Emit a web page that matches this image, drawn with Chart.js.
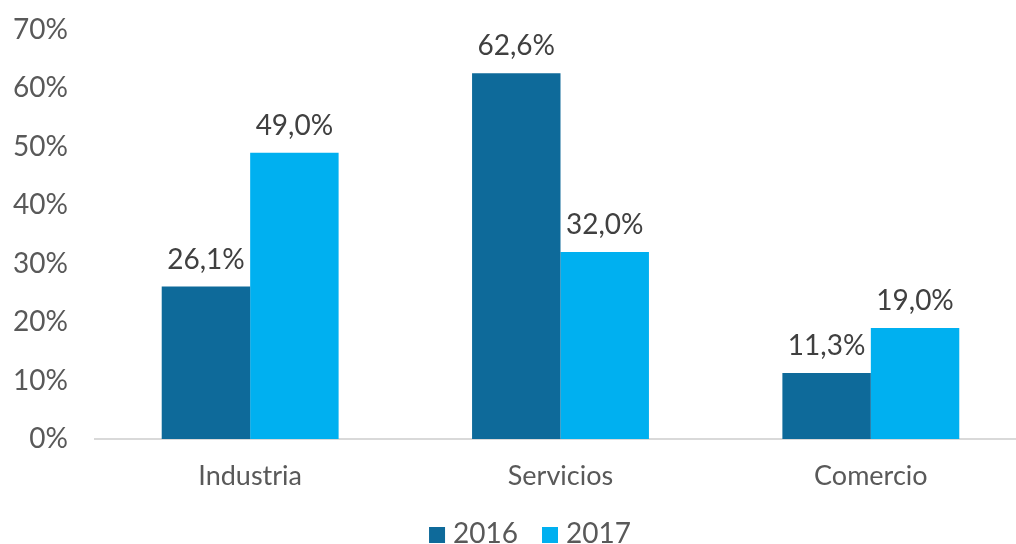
<!DOCTYPE html>
<html>
<head>
<meta charset="utf-8">
<script src="https://cdn.jsdelivr.net/npm/chart.js@4.4.0/dist/chart.umd.min.js"></script>
<style>
html,body{margin:0;padding:0;background:#fff;overflow:hidden;}
#wrap{width:1030px;height:544px;position:relative;}
</style>
</head>
<body>
<div id="wrap"><canvas id="c"></canvas></div>
<script>
const categories = ['Industria', 'Servicios', 'Comercio'];
const seriesNames = ['2016', '2017'];
const values2016 = [26.1, 62.6, 11.3];
const values2017 = [49.0, 32.0, 19.0];
const yTicks = [0, 10, 20, 30, 40, 50, 60, 70];

const FONT = 'Lato';
const fmt = v => v.toFixed(1).replace('.', ',') + '%';

const dataLabels = {
  id: 'dataLabels',
  afterDatasetsDraw(chart) {
    const ctx = chart.ctx;
    ctx.save();
    ctx.font = '28px ' + FONT;
    ctx.fillStyle = '#404040';
    ctx.textAlign = 'center';
    ctx.textBaseline = 'alphabetic';
    chart.data.datasets.forEach((ds, i) => {
      const meta = chart.getDatasetMeta(i);
      meta.data.forEach((el, j) => {
        ctx.fillText(fmt(ds.data[j]), el.x, el.y - 18);
      });
    });
    ctx.restore();
  }
};

const customLegend = {
  id: 'customLegend',
  afterDraw(chart) {
    const ctx = chart.ctx;
    ctx.save();
    ctx.font = '28px ' + FONT;
    ctx.textBaseline = 'alphabetic';
    ctx.textAlign = 'left';
    const box = 16, gapText = 8, gapItem = 24;
    const items = chart.data.datasets.map(ds => ({ text: ds.label, color: ds.backgroundColor, w: ctx.measureText(ds.label).width }));
    const total = items.reduce((a, it) => a + box + gapText + it.w, 0) + gapItem * (items.length - 1);
    let x = 530 - total / 2;
    const base = 543;
    items.forEach(it => {
      ctx.fillStyle = it.color;
      ctx.fillRect(x, base - box, box, box);
      x += box + gapText;
      ctx.fillStyle = '#595959';
      ctx.fillText(it.text, x, base);
      x += it.w + gapItem;
    });
    ctx.restore();
  }
};

new Chart(document.getElementById('c'), {
  type: 'bar',
  data: {
    labels: categories,
    datasets: [
      { label: seriesNames[0], data: values2016, backgroundColor: '#0E6A9A' },
      { label: seriesNames[1], data: values2017, backgroundColor: '#00B0F0' }
    ]
  },
  options: {
    responsive: true,
    maintainAspectRatio: false,
    animation: false,
    layout: { padding: { top: 30, right: 4, left: 0, bottom: 0 } },
    datasets: { bar: { categoryPercentage: 0.57, barPercentage: 1.0 } },
    scales: {
      x: {
        afterFit: s => { s.height = 105; },
        grid: { display: false },
        border: { display: true, color: '#D9D9D9', width: 2 },
        ticks: { color: '#595959', font: { family: FONT, size: 27 }, padding: 13 }
      },
      y: {
        min: 0, max: 70,
        afterBuildTicks: s => { s.ticks = yTicks.map(v => ({ value: v })); },
        afterFit: s => { s.width = 95; s.paddingTop = 0; s.paddingBottom = 0; },
        grid: { display: false },
        border: { display: false },
        ticks: { color: '#595959', font: { family: FONT, size: 28 }, padding: 19, callback: v => v + '%' }
      }
    },
    plugins: {
      legend: { display: false },
      tooltip: { enabled: false }
    }
  },
  plugins: [dataLabels, customLegend]
});
</script>
</body>
</html>
